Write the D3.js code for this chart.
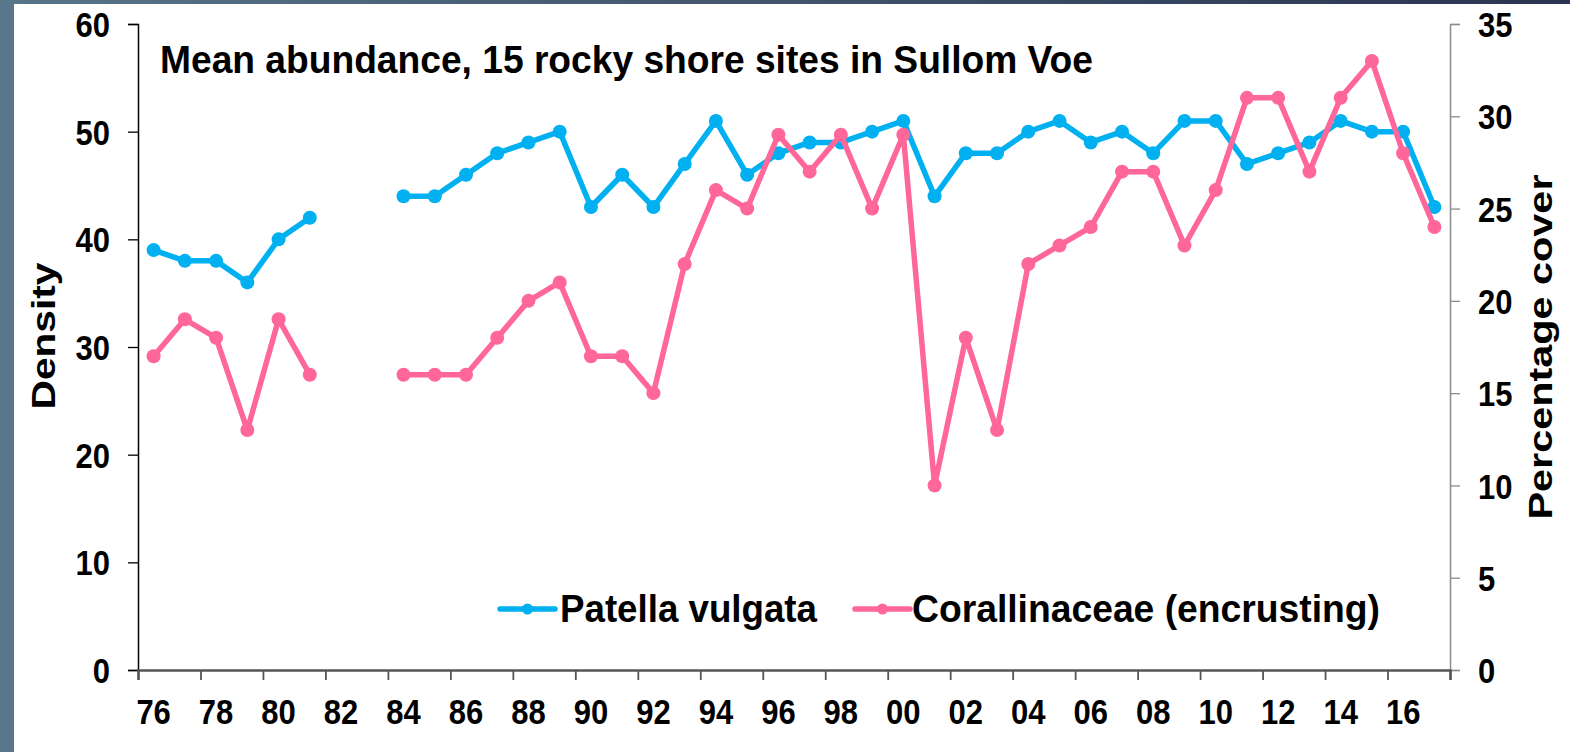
<!DOCTYPE html>
<html>
<head>
<meta charset="utf-8">
<script src="https://cdn.jsdelivr.net/npm/d3@7"></script>
<style>
  html, body { margin: 0; padding: 0; background: #fff; }
  svg { display: block; }
  text { font-family: "Liberation Sans", Arial, sans-serif; font-weight: bold; fill: #000; }
</style>
</head>
<body>
<svg id="chart" width="1570" height="752"></svg>
<script>
const years = ["76","77","78","79","80","81","82","83","84","85","86","87","88","89","90","91","92","93","94","95","96","97","98","99","00","01","02","03","04","05","06","07","08","09","10","11","12","13","14","15","16","17"];
const patella = [39,38,38,36,40,42,null,null,44,44,46,48,49,50,43,46,43,47,51,46,48,49,49,50,51,44,48,48,50,51,49,50,48,51,51,47,48,49,51,50,50,43];
const coralline = [17,19,18,13,19,16,null,null,16,16,16,18,20,21,17,17,15,22,26,25,29,27,29,25,29,10,18,13,22,23,24,27,27,23,26,31,31,27,31,33,28,24];
const leftTicks = [0,10,20,30,40,50,60];
const rightTicks = [0,5,10,15,20,25,30,35];
const xLabelYears = years.filter((d, i) => i % 2 === 0);
const title = "Mean abundance, 15 rocky shore sites in Sullom Voe";
const seriesNames = ["Patella vulgata", "Corallinaceae (encrusting)"];

(function () {
const svg = d3.select("#chart");
const W = 1570, H = 752;
const mLeft = 138, mRight = 1450, mTop = 24, mBottom = 670;
const blue = "#00B0F0", pink = "#FF6699";
const SY = 1.13;

// background frame
const defs = svg.append("defs");
const g1 = defs.append("linearGradient").attr("id", "topgrad").attr("x1", "0").attr("x2", "1");
g1.append("stop").attr("offset", "0").attr("stop-color", "#587589");
g1.append("stop").attr("offset", "1").attr("stop-color", "#2a3450");
svg.append("rect").attr("x", 0).attr("y", 0).attr("width", W).attr("height", 4).attr("fill", "url(#topgrad)");
svg.append("rect").attr("x", 0).attr("y", 0).attr("width", 14).attr("height", H).attr("fill", "#587589");

const x = d3.scaleBand().domain(years).range([mLeft, mRight]).padding(0);
const xb = d3.scaleLinear().domain([0, years.length]).range([mLeft, mRight]);
const yL = d3.scaleLinear().domain([0, 60]).range([mBottom, mTop]);
const yR = d3.scaleLinear().domain([0, 35]).range([mBottom, mTop]);

function styleTickText(sel, ty, dy) {
  sel.style("font-size", "31px").attr("font-family", null)
    .attr("y", 0).attr("dy", dy)
    .attr("transform", `translate(0,${ty}) scale(1,${SY})`);
}

// left axis
const la = svg.append("g").attr("transform", `translate(${mLeft},0)`)
  .call(d3.axisLeft(yL).tickValues(leftTicks).tickSize(10).tickPadding(18));
la.select(".domain").attr("stroke", "#000").attr("stroke-width", 1.5);
la.selectAll(".tick line").attr("stroke", "#000").attr("stroke-width", 1.3);
styleTickText(la.selectAll(".tick text"), 0, "0.36em");

// right axis
const ra = svg.append("g").attr("transform", `translate(${mRight},0)`)
  .call(d3.axisRight(yR).tickValues(rightTicks).tickSize(10).tickPadding(18));
ra.select(".domain").attr("stroke", "#8c8c8c").attr("stroke-width", 1.5);
ra.selectAll(".tick line").attr("stroke", "#8c8c8c").attr("stroke-width", 1.3);
styleTickText(ra.selectAll(".tick text"), 0, "0.36em");

// bottom axis: tick marks at category boundaries every 2, labels at category centers
const ba = svg.append("g").attr("transform", `translate(0,${mBottom})`)
  .call(d3.axisBottom(xb).tickValues(d3.range(0, years.length + 1, 2)).tickSize(10).tickFormat(""));
ba.select(".domain").attr("stroke", "#555").attr("stroke-width", 2.5);
ba.selectAll(".tick line").attr("stroke", "#555").attr("stroke-width", 1.8);
const bl = svg.append("g").attr("transform", `translate(0,${mBottom})`)
  .call(d3.axisBottom(x).tickValues(xLabelYears).tickSize(0).tickPadding(26));
bl.select(".domain").remove();
styleTickText(bl.selectAll(".tick text"), 29, "0.71em");

// lines
function drawSeries(vals, y, color) {
  const pts = vals.map((v, i) => ({ k: years[i], v }));
  const line = d3.line().defined(d => d.v != null)
    .x(d => x(d.k) + x.bandwidth() / 2).y(d => y(d.v));
  svg.append("path").datum(pts).attr("d", line).attr("fill", "none")
    .attr("stroke", color).attr("stroke-width", 5.5).attr("stroke-linejoin", "round");
  svg.append("g").selectAll("circle").data(pts.filter(d => d.v != null)).join("circle")
    .attr("cx", d => x(d.k) + x.bandwidth() / 2).attr("cy", d => y(d.v)).attr("r", 7).attr("fill", color);
}
drawSeries(patella, yL, blue);
drawSeries(coralline, yR, pink);

// title
svg.append("text").attr("x", 160).attr("y", 73).style("font-size", "38px")
  .attr("textLength", 933).attr("lengthAdjust", "spacingAndGlyphs").text(title);

// axis titles
svg.append("text").attr("transform", "translate(55,336) rotate(-90)").attr("text-anchor", "middle")
  .style("font-size", "33px").attr("textLength", 147).attr("lengthAdjust", "spacingAndGlyphs").text("Density");
svg.append("text").attr("transform", "translate(1552,347) rotate(-90)").attr("text-anchor", "middle")
  .style("font-size", "34px").attr("textLength", 345).attr("lengthAdjust", "spacingAndGlyphs").text("Percentage cover");

// legend
const legend = [
  { name: seriesNames[0], color: blue, lx1: 500, lx2: 555, tx: 560, tl: 257 },
  { name: seriesNames[1], color: pink, lx1: 855, lx2: 910, tx: 912, tl: 468 }
];
const lg = svg.append("g");
legend.forEach(d => {
  lg.append("line").attr("x1", d.lx1).attr("x2", d.lx2).attr("y1", 609).attr("y2", 609)
    .attr("stroke", d.color).attr("stroke-width", 5.5).attr("stroke-linecap", "round");
  lg.append("circle").attr("cx", (d.lx1 + d.lx2) / 2).attr("cy", 609).attr("r", 5.5).attr("fill", d.color);
  lg.append("text").attr("x", d.tx).attr("y", 622).style("font-size", "38px")
    .attr("textLength", d.tl).attr("lengthAdjust", "spacingAndGlyphs").text(d.name);
});
})();
</script>
</body>
</html>
